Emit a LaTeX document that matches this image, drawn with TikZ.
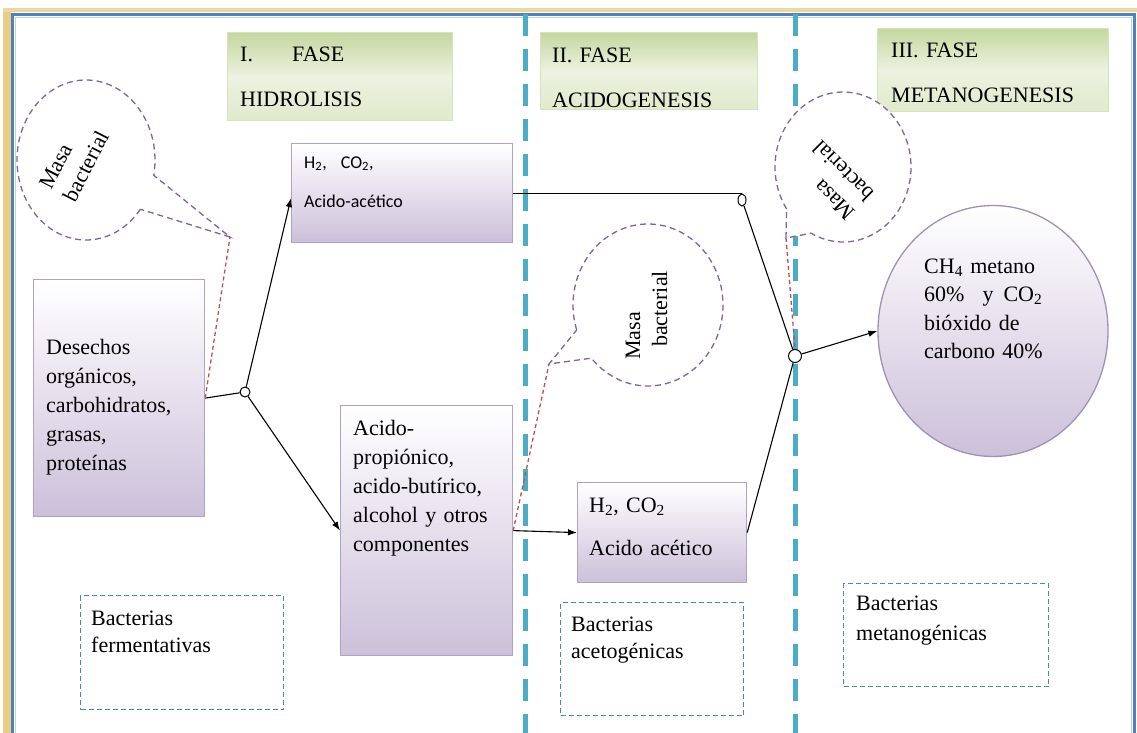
\documentclass[tikz,border=0pt]{standalone}
\usepackage{fontspec}
\setmainfont{Liberation Serif}
\newfontfamily\calibrifont{Carlito}
\usetikzlibrary{arrows.meta,shapes.geometric,calc}
\definecolor{frameblue}{RGB}{79,129,189}
\definecolor{frametan}{RGB}{233,205,135}
\definecolor{phaseline}{RGB}{75,172,198}
\definecolor{lavborder}{RGB}{178,161,199}
\definecolor{lavbottom}{RGB}{204,192,218}
\definecolor{grnlight}{RGB}{236,242,224}
\definecolor{grndark}{RGB}{196,215,158}
\definecolor{grnborder}{RGB}{214,227,188}
\definecolor{calloutpurple}{RGB}{128,100,162}
\definecolor{pointerred}{RGB}{192,80,77}
\tikzset{
  phasebox/.style={draw=grnborder, line width=1, top color=grndark, bottom color=grnlight!70!grndark, middle color=grnlight, inner sep=0, anchor=north west},
  procbox/.style={draw=lavborder, line width=1.2, top color=white, bottom color=lavbottom, inner sep=0, anchor=north west},
  bactbox/.style={draw=frameblue, line width=1.3, dash pattern=on 5pt off 3pt, inner sep=0, anchor=north west},
  headtext/.style={font=\fontsize{22}{45}\selectfont, anchor=base west, inner sep=0, align=left, text width=225},
  bodytext/.style={font=\fontsize{22}{29}\selectfont, anchor=base west, inner sep=0, align=left, text width=#1},
  bodytext/.default=170,
  callouttext/.style={font=\fontsize{22}{27}\selectfont, anchor=base west, inner sep=0, align=left, text width=90},
  callout/.style={draw=calloutpurple, fill=white, line width=1.3, dash pattern=on 6pt off 4pt},
  pointer/.style={draw=pointerred, line width=1.3, dash pattern=on 4pt off 3pt},
  junction/.style={circle, draw=black, fill=white, line width=1, inner sep=0},
  conn/.style={draw=black, line width=1.1},
  arr/.style={conn, -{Latex[length=9pt,width=6.5pt]}},
}
\begin{document}
\begin{tikzpicture}[x=1pt,y=-1pt]
\useasboundingbox (0,0) rectangle (1137,733);
% frame
\fill[frametan] (3,8) rectangle (11,733);
\fill[frametan!80] (3,8) rectangle (1137,12);
\draw[frameblue, line width=3.5] (12.5,14.5) rectangle (1134.5,745);
\draw[frameblue!35, line width=1] (15.5,17.5) rectangle (1131.5,745);
% phase separators
\draw[phaseline, line width=5, dash pattern=on 22pt off 13pt] (525,14) -- (525,733);
\draw[phaseline, line width=5, dash pattern=on 22pt off 13pt] (795,14) -- (795,733);
% phase headers
\node[phasebox, minimum width=225, minimum height=88] (ph1) at (227,32) {};
\node[phasebox, minimum width=217, minimum height=77] (ph2) at (540,32) {};
\node[phasebox, minimum width=231, minimum height=83] (ph3) at (877,28) {};
\node[headtext] (ph1t) at (240,62) {\makebox[52pt][l]{I.}FASE\\HIDROLISIS};
\node[headtext] (ph2t) at (552,63) {II. FASE\\ACIDOGENESIS};
\node[headtext] (ph3t) at (891,58) {III. FASE\\METANOGENESIS};
% process boxes
\node[procbox, minimum width=171, minimum height=237] (waste) at (33,279) {};
\node[bodytext] (wastet) at (46,354) {Desechos\\orgánicos,\\carbohidratos,\\grasas,\\proteínas};
\node[procbox, minimum width=221, minimum height=99] (gasbox) at (291,143) {};
\node[font=\calibrifont\fontsize{18}{39}\selectfont, anchor=base west, inner sep=0, align=left, text width=200] (gasboxt) at (304,168) {H\textsubscript{2},\hspace{14pt}CO\textsubscript{2},\\Acido-acético};
\node[procbox, minimum width=172, minimum height=250] (acids) at (340,405) {};
\node[bodytext] (acidst) at (353,435) {Acido-\\propiónico,\\acido-butírico,\\alcohol y otros\\componentes};
\node[procbox, minimum width=169, minimum height=100] (acet) at (577,482) {};
\node[bodytext=160, font=\fontsize{22}{43}\selectfont] (acett) at (589,512) {H\textsubscript{2}, CO\textsubscript{2}\\Acido acético};
% product ellipse
\node[ellipse, draw=lavborder!90!black, line width=1.3, top color=white, bottom color=lavbottom, minimum width=230, minimum height=251, inner sep=0] (gas) at (993,331) {};
\node[bodytext=180, font=\fontsize{22}{28.5}\selectfont] (gast) at (924,273) {CH\textsubscript{4} metano\\60\%\hspace{18pt}y\hspace{10pt}CO\textsubscript{2}\\bióxido de\\carbono 40\%};
% bacteria boxes
\node[bactbox, minimum width=203, minimum height=114] (b1) at (80,595) {};
\node[bodytext=190, font=\fontsize{22}{27}\selectfont] (b1t) at (91,625) {Bacterias\\fermentativas};
\node[bactbox, minimum width=183, minimum height=113] (b2) at (560,602) {};
\node[bodytext=175, font=\fontsize{22}{27}\selectfont] (b2t) at (571,631) {Bacterias\\acetogénicas};
\node[bactbox, minimum width=205, minimum height=103] (b3) at (843,583) {};
\node[bodytext=190, font=\fontsize{22}{30}\selectfont] (b3t) at (856,610) {Bacterias\\metanogénicas};
% callouts
\coordinate (tip1) at (230,237);
\coordinate (tip2) at (549,364);
\coordinate (tip3) at (786,238);
\filldraw[callout] plot[domain=38:371, samples=90, smooth] ({86+69*cos(\x)},{160+80*sin(\x)}) -- (tip1) -- cycle;
\filldraw[callout] plot[domain=162:499, samples=90, smooth] ({648+75*cos(\x)},{305+81*sin(\x)}) -- (tip2) -- cycle;
\filldraw[callout] plot[domain=146:478, samples=90, smooth] ({843+68*cos(\x)},{167+75*sin(\x)}) -- (tip3) -- cycle;
\node[callouttext, rotate=63] (c1t) at (51,191) {Masa\\bacterial};
\node[callouttext, rotate=90] (c2t) at (640,360) {Masa\\\hspace*{13pt}bacterial};
\node[callouttext, rotate=135] (c3t) at (856,212) {Masa\\bacterial};
% junctions
\node[junction, minimum size=10] (j1) at (245,392) {};
\node[junction, ellipse, minimum width=8, minimum height=12] (j2) at (742,200) {};
\node[junction, minimum size=13] (j3) at (795,356) {};
% connectors
\draw[conn] (waste.east) -- (j1);
\draw[arr] (j1) -- ([yshift=-5pt]gasbox.west);
\draw[arr] (j1) -- (acids.west);
\draw[arr] (acids.east) -- (acet.west);
\draw[conn] (gasbox.east) -- (gasbox.east -| j2.north);
\draw[conn] (j2) -- (j3);
\draw[conn] (acet.east) -- (j3);
\draw[arr] (j3) -- (gas.west);
% pointers
\draw[pointer] (waste.east) -- (tip1);
\draw[pointer] (acids.east) -- (tip2);
\draw[pointer] (tip3) -- (j3.north);
\end{tikzpicture}
\end{document}
